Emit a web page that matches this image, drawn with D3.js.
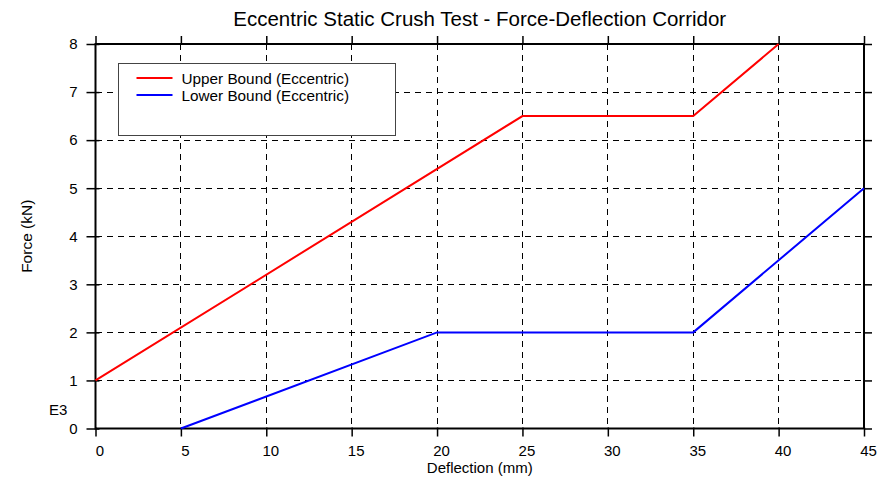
<!DOCTYPE html>
<html lang="en">
<head>
<meta charset="UTF-8">
<title>Force-Deflection Corridor</title>
<script src="https://cdn.jsdelivr.net/npm/d3@7"></script>
<style>
	body { margin: 0; background: #fff; }
	svg text { font-family: "Liberation Sans", Arial, sans-serif; fill: #000; }
</style>
</head>
<body>
<div id="viz"></div>
<script>
// data
let upperX = [0, 25, 35, 40];
let upperY = [1, 6.5, 6.5, 8];
let lowerX = [5, 20, 35, 45];
let lowerY = [0, 2, 2, 5];
let xTicks = [0, 5, 10, 15, 20, 25, 30, 35, 40, 45];
let yTicks = [0, 1, 2, 3, 4, 5, 6, 7, 8];
let seriesNames = ['Upper Bound (Eccentric)', 'Lower Bound (Eccentric)'];
let seriesColors = ['#ff0000', '#0000ff'];

let W = 888, H = 479;
let margin = {top: 44, left: 95.5, bottom: 50.5, right: 24};
let width = W - margin.left - margin.right;
let height = H - margin.top - margin.bottom;

let svg = d3.select('#viz').append('svg')
	.attr('width', W).attr('height', H);

let g = svg.append('g')
	.attr('transform', 'translate(' + margin.left + ',' + margin.top + ')');

let x = d3.scaleLinear().domain([0, 45]).range([0, width]);
let y = d3.scaleLinear().domain([0, 8]).range([height, 0]);

// dashed grid
g.append('g').selectAll('line').data(xTicks.slice(1, -1)).enter().append('line')
	.attr('x1', d => x(d)).attr('x2', d => x(d))
	.attr('y1', 0).attr('y2', height)
	.attr('stroke', '#000').attr('stroke-width', 1)
	.attr('stroke-dasharray', '6,5').attr('shape-rendering', 'crispEdges');
g.append('g').selectAll('line').data(yTicks.slice(1, -1)).enter().append('line')
	.attr('y1', d => y(d)).attr('y2', d => y(d))
	.attr('x1', 0).attr('x2', width)
	.attr('stroke', '#000').attr('stroke-width', 1)
	.attr('stroke-dasharray', '6,5').attr('shape-rendering', 'crispEdges');

// axes (ticks cross the frame)
function styleAxis(sel) {
	sel.select('.domain').remove();
	sel.selectAll('line').attr('stroke', '#000').attr('stroke-width', 1.5);
}
let gx = g.append('g').attr('transform', 'translate(0,' + height + ')')
	.call(d3.axisBottom(x).tickValues(xTicks).tickSizeInner(8).tickSizeOuter(0).tickPadding(9));
gx.call(styleAxis);
gx.selectAll('line').attr('y1', -1);
gx.selectAll('text').attr('font-size', 15).attr('dx', 4);

let gy = g.append('g')
	.call(d3.axisLeft(y).tickValues(yTicks).tickSizeInner(9).tickSizeOuter(0).tickPadding(9));
gy.call(styleAxis);
gy.selectAll('line').attr('x1', 4);
gy.selectAll('text').attr('font-size', 15);

let gt = g.append('g')
	.call(d3.axisTop(x).tickValues(xTicks).tickSize(8).tickFormat(''));
gt.call(styleAxis);

let gr = g.append('g').attr('transform', 'translate(' + width + ',0)')
	.call(d3.axisRight(y).tickValues(yTicks).tickSize(8).tickFormat(''));
gr.call(styleAxis);

// frame
g.append('rect').attr('x', 0).attr('y', 0).attr('width', width).attr('height', height)
	.attr('fill', 'none').attr('stroke', '#000').attr('stroke-width', 2);

// series
let line = d3.line().x(d => x(d[0])).y(d => y(d[1]));
let series = [d3.zip(upperX, upperY), d3.zip(lowerX, lowerY)];
g.selectAll('.series').data(series).enter().append('path')
	.attr('class', 'series')
	.attr('d', line)
	.attr('fill', 'none')
	.attr('stroke', (d, i) => seriesColors[i])
	.attr('stroke-width', 2);

// legend
let leg = svg.append('g').attr('transform', 'translate(118.5,63.5)');
leg.append('rect').attr('width', 277).attr('height', 72)
	.attr('fill', '#fff').attr('stroke', '#444').attr('stroke-width', 1);
seriesNames.forEach((name, i) => {
	leg.append('line').attr('x1', 18).attr('x2', 54)
		.attr('y1', 14.5 + i * 17).attr('y2', 14.5 + i * 17)
		.attr('stroke', seriesColors[i]).attr('stroke-width', 2);
	leg.append('text').attr('x', 63).attr('y', 20 + i * 17)
		.attr('font-size', 15.3).text(name);
});

// titles
svg.append('text').attr('x', margin.left + width / 2).attr('y', 26)
	.attr('text-anchor', 'middle').attr('font-size', 20.5)
	.text('Eccentric Static Crush Test - Force-Deflection Corridor');
svg.append('text').attr('x', margin.left + width / 2).attr('y', 473)
	.attr('text-anchor', 'middle').attr('font-size', 15)
	.text('Deflection (mm)');
svg.append('text').attr('transform', 'translate(32,' + (margin.top + height / 2) + ') rotate(-90)')
	.attr('text-anchor', 'middle').attr('font-size', 15.5)
	.text('Force (kN)');
svg.append('text').attr('x', 49).attr('y', 415).attr('font-size', 15).text('E3');
</script>
</body>
</html>
